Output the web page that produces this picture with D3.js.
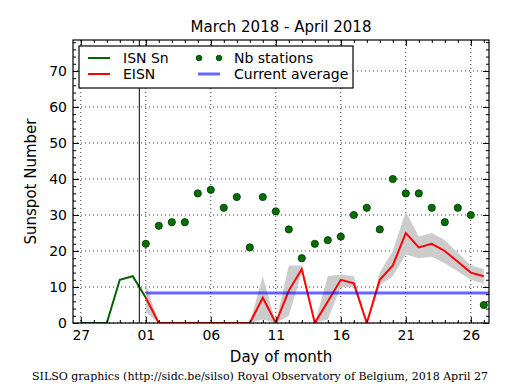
<!DOCTYPE html>
<html>
<head>
<meta charset="utf-8">
<script src="https://cdn.jsdelivr.net/npm/d3@7"></script>
<style>
body { margin: 0; background: #fff; }
text { font-family: "DejaVu Sans", sans-serif; fill: #000; }
</style>
</head>
<body>
<div id="chart"></div>
<script>
// ISN Sn (end of March, joins EISN on April 1)
var isnDates = ["2018-03-27", "2018-03-28", "2018-03-29", "2018-03-30", "2018-03-31", "2018-04-01"];
var isnValues = [0, 0, 0, 12, 13, 7];

// April days
var aprilDates = ["2018-04-01", "2018-04-02", "2018-04-03", "2018-04-04", "2018-04-05", "2018-04-06",
    "2018-04-07", "2018-04-08", "2018-04-09", "2018-04-10", "2018-04-11", "2018-04-12", "2018-04-13",
    "2018-04-14", "2018-04-15", "2018-04-16", "2018-04-17", "2018-04-18", "2018-04-19", "2018-04-20",
    "2018-04-21", "2018-04-22", "2018-04-23", "2018-04-24", "2018-04-25", "2018-04-26", "2018-04-27"];
var eisnValues = [7, 0, 0, 0, 0, 0, 0, 0, 0, 7, 0, 9, 15, 0, 6, 12, 11, 0, 12, 16, 25, 21, 22, 20, 17, 14, 13];
var eisnUpper = [11, 0, 0, 0, 0, 0, 0, 0, 0, 13, 0, 16, 16, 0, 13, 13.5, 13, 0, 14, 20, 31, 24, 25, 23, 19.5, 16, 15];
var eisnLower = [3, 0, 0, 0, 0, 0, 0, 0, 0, 1, 0, 2, 14, 0, 1, 10, 10, 0, 10.5, 13, 19, 18, 18.4, 16.6, 14.3, 12, 11];
var stations = [22, 27, 28, 28, 36, 37, 32, 35, 21, 35, 31, 26, 18, 22, 23, 24, 30, 32, 26, 40, 36, 36, 32, 28, 32, 30, 5];

var currentAverage = 8.3;
var averageFrom = "2018-04-01";
var monthBoundary = "2018-03-31T12:00";

var xTickDates = ["2018-03-27", "2018-04-01", "2018-04-06", "2018-04-11", "2018-04-16", "2018-04-21", "2018-04-26"];
var yTickValues = [0, 10, 20, 30, 40, 50, 60, 70];
var xDomain = ["2018-03-26T09:36", "2018-04-27T09:36"];
var yDomain = [0, 78.6];

var width = 515, height = 390;
var margin = {top: 40, right: 26, bottom: 67, left: 73};
var plotW = width - margin.left - margin.right;
var plotH = height - margin.top - margin.bottom;

var parseDay = d3.utcParse("%Y-%m-%d");
var parseTime = d3.utcParse("%Y-%m-%dT%H:%M");

var x = d3.scaleUtc()
    .domain(xDomain.map(parseTime))
    .range([0, plotW]);
var y = d3.scaleLinear()
    .domain(yDomain)
    .range([plotH, 0]);

var svg = d3.select("#chart")
    .append("svg")
    .attr("width", width)
    .attr("height", height);

svg.append("defs").append("clipPath")
    .attr("id", "plotclip")
    .append("rect")
    .attr("width", plotW)
    .attr("height", plotH);

var g = svg.append("g")
    .attr("transform", "translate(" + margin.left + "," + margin.top + ")");

// grid
var grid = g.append("g");
grid.selectAll(".gx").data(xTickDates.map(parseDay)).enter().append("line")
    .attr("x1", d => x(d)).attr("x2", d => x(d))
    .attr("y1", 0).attr("y2", plotH)
    .style("stroke", "#000").style("stroke-width", 0.8).style("stroke-dasharray", "1,3");
grid.selectAll(".gy").data(yTickValues).enter().append("line")
    .attr("x1", 0).attr("x2", plotW)
    .attr("y1", d => y(d)).attr("y2", d => y(d))
    .style("stroke", "#000").style("stroke-width", 0.8).style("stroke-dasharray", "1,3");

var plot = g.append("g").attr("clip-path", "url(#plotclip)");

var aprilData = aprilDates.map(function (d, i) {
    return {date: parseDay(d), eisn: eisnValues[i], hi: eisnUpper[i], lo: eisnLower[i], nb: stations[i]};
});
var isnData = isnDates.map(function (d, i) {
    return {date: parseDay(d), v: isnValues[i]};
});

// error band
plot.append("path")
    .datum(aprilData)
    .attr("d", d3.area().x(d => x(d.date)).y0(d => y(d.lo)).y1(d => y(d.hi)))
    .style("fill", "#cccccc")
    .style("stroke", "none");

// EISN
plot.append("path")
    .datum(aprilData)
    .attr("d", d3.line().x(d => x(d.date)).y(d => y(d.eisn)))
    .style("fill", "none")
    .style("stroke", "#ff0000")
    .style("stroke-width", 2);

// ISN Sn
plot.append("path")
    .datum(isnData)
    .attr("d", d3.line().x(d => x(d.date)).y(d => y(d.v)))
    .style("fill", "none")
    .style("stroke", "#006400")
    .style("stroke-width", 2);

// current average
plot.append("line")
    .attr("x1", x(parseDay(averageFrom)))
    .attr("x2", plotW)
    .attr("y1", y(currentAverage))
    .attr("y2", y(currentAverage))
    .style("stroke", "#0000ff")
    .style("stroke-opacity", 0.6)
    .style("stroke-width", 3);

// Nb stations
plot.selectAll(".dot").data(aprilData).enter().append("circle")
    .attr("cx", d => x(d.date))
    .attr("cy", d => y(d.nb))
    .attr("r", 3.6)
    .style("fill", "#007000")
    .style("stroke", "#003000")
    .style("stroke-width", 0.8);

// month boundary
g.append("line")
    .attr("x1", x(parseTime(monthBoundary))).attr("x2", x(parseTime(monthBoundary)))
    .attr("y1", 0).attr("y2", plotH)
    .style("stroke", "#000").style("stroke-width", 1);

// axes (ticks inward, minor ticks too)
var minorDays = d3.utcDay.range(x.domain()[0], x.domain()[1]);
var minorY = d3.range(0, yDomain[1], 2);

function styleAxis(sel) {
    sel.select(".domain").remove();
    sel.selectAll("line").style("stroke", "#000").style("stroke-width", 1);
    sel.selectAll("text").style("font-size", "14px").style("font-family", "DejaVu Sans, sans-serif");
}

g.append("g").attr("transform", "translate(0," + plotH + ")")
    .call(d3.axisBottom(x).tickValues(minorDays).tickSize(-3).tickFormat(""))
    .call(styleAxis);
g.append("g").attr("transform", "translate(0," + plotH + ")")
    .call(d3.axisBottom(x).tickValues(xTickDates.map(parseDay)).tickSize(-6).tickPadding(7)
        .tickFormat(d3.utcFormat("%d")))
    .call(styleAxis);
g.append("g")
    .call(d3.axisTop(x).tickValues(minorDays).tickSize(-3).tickFormat(""))
    .call(styleAxis);
g.append("g")
    .call(d3.axisTop(x).tickValues(xTickDates.map(parseDay)).tickSize(-6).tickFormat(""))
    .call(styleAxis);

g.append("g")
    .call(d3.axisLeft(y).tickValues(minorY).tickSize(-3).tickFormat(""))
    .call(styleAxis);
g.append("g")
    .call(d3.axisLeft(y).tickValues(yTickValues).tickSize(-6).tickPadding(6))
    .call(styleAxis);
g.append("g").attr("transform", "translate(" + plotW + ",0)")
    .call(d3.axisRight(y).tickValues(minorY).tickSize(-3).tickFormat(""))
    .call(styleAxis);
g.append("g").attr("transform", "translate(" + plotW + ",0)")
    .call(d3.axisRight(y).tickValues(yTickValues).tickSize(-6).tickFormat(""))
    .call(styleAxis);

// frame
g.append("rect")
    .attr("width", plotW).attr("height", plotH)
    .style("fill", "none").style("stroke", "#000").style("stroke-width", 1.2);

// legend
var legend = g.append("g").attr("transform", "translate(6,6)");
legend.append("rect")
    .attr("width", 274).attr("height", 42)
    .style("fill", "#fff").style("stroke", "#000").style("stroke-width", 1.2);

var legendItems = [
    {label: "ISN Sn", kind: "line", color: "#006400", width: 2, opacity: 1, col: 0, row: 0},
    {label: "EISN", kind: "line", color: "#ff0000", width: 2, opacity: 1, col: 0, row: 1},
    {label: "Nb stations", kind: "dots", color: "#007000", col: 1, row: 0},
    {label: "Current average", kind: "line", color: "#0000ff", width: 3, opacity: 0.6, col: 1, row: 1}
];
var colX = [9, 119];
legendItems.forEach(function (it) {
    var lx = colX[it.col], ly = 12 + it.row * 16;
    if (it.kind === "line") {
        legend.append("line")
            .attr("x1", lx).attr("x2", lx + 22).attr("y1", ly).attr("y2", ly)
            .style("stroke", it.color).style("stroke-width", it.width).style("stroke-opacity", it.opacity);
    } else {
        [lx + 1, lx + 21].forEach(function (cx) {
            legend.append("circle").attr("cx", cx).attr("cy", ly).attr("r", 2.8)
                .style("fill", it.color).style("stroke", "#003000").style("stroke-width", 0.8);
        });
    }
    legend.append("text")
        .attr("x", lx + (it.col === 0 ? 35 : 36)).attr("y", ly + 5)
        .style("font-size", "14px")
        .text(it.label);
});

// titles
svg.append("text")
    .attr("x", margin.left + plotW / 2).attr("y", 32)
    .attr("text-anchor", "middle")
    .style("font-size", "15px")
    .text("March 2018 - April 2018");
svg.append("text")
    .attr("transform", "translate(36," + (margin.top + plotH / 2) + ") rotate(-90)")
    .attr("text-anchor", "middle")
    .style("font-size", "15px")
    .text("Sunspot Number");
svg.append("text")
    .attr("x", margin.left + plotW / 2).attr("y", 362)
    .attr("text-anchor", "middle")
    .style("font-size", "15px")
    .text("Day of month");
svg.append("text")
    .attr("x", 260).attr("y", 380)
    .attr("text-anchor", "middle")
    .style("font-family", "DejaVu Serif, serif")
    .style("font-size", "11px")
    .text("SILSO graphics (http://sidc.be/silso) Royal Observatory of Belgium, 2018 April 27");
</script>
</body>
</html>
